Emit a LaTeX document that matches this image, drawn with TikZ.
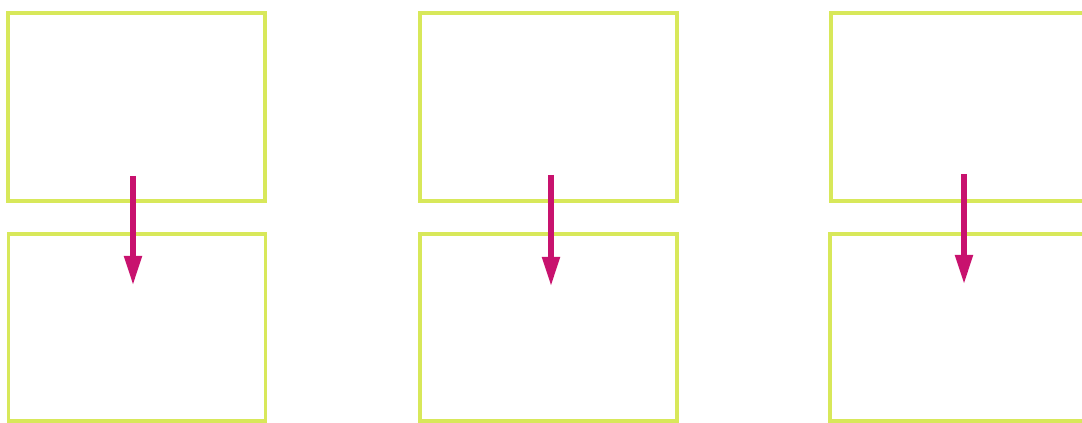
\documentclass[tikz,border=0pt]{standalone}
\usetikzlibrary{arrows.meta}
\definecolor{frameline}{HTML}{D8E85A}
\definecolor{pointer}{HTML}{C8126E}

\begin{document}
\begin{tikzpicture}[
  panel/.style={draw=frameline, line width=2pt, minimum width=5.14cm,
                minimum height=3.76cm, inner sep=0pt},
  drop/.style={-{Triangle[length=0.58cm, width=0.34cm]}, draw=pointer,
               line width=2.9pt},
]
\useasboundingbox (0,0) rectangle (21.64,8.46);
\clip (0,0) rectangle (21.64,8.46);

% ---- left pair ---------------------------------------------------------------
\node[panel] (topL) at (2.73,6.32) {};
\node[panel, minimum height=3.74cm] (botL) at (2.74,1.91) {};
\coordinate (startL) at (2.66,4.94);
\coordinate (endL)   at (2.66,2.76);
\draw[drop] (startL) -- (endL);

% ---- middle pair -------------------------------------------------------------
\node[panel] (topM) at (10.97,6.32) {};
\node[panel, minimum height=3.74cm] (botM) at (10.97,1.91) {};
\coordinate (startM) at (11.02,4.96);
\coordinate (endM)   at (11.02,2.74);
\draw[drop] (startM) -- (endM);

% ---- right pair (runs off the edge) ------------------------------------------
\node[panel] (topR) at (19.19,6.32) {};
\node[panel, minimum height=3.74cm] (botR) at (19.17,1.91) {};
\coordinate (startR) at (19.28,4.98);
\coordinate (endR)   at (19.28,2.78);
\draw[drop] (startR) -- (endR);

\end{tikzpicture}
\end{document}
